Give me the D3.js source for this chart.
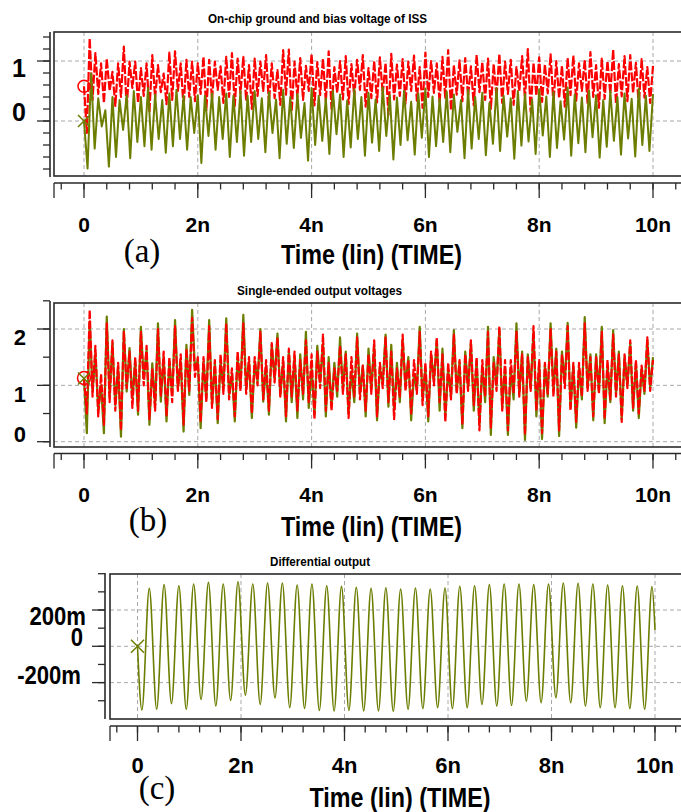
<!DOCTYPE html>
<html>
<head>
<meta charset="utf-8">
<script src="https://cdn.jsdelivr.net/npm/d3@7"></script>
<style>
  body { margin: 0; background: #fff; }
  svg { display: block; }
  text { font-family: "Liberation Sans", Arial, Helvetica, sans-serif; font-weight: bold; fill: #000; }
</style>
</head>
<body>
<div id="chart"></div>
<script>
// ---- data: time in ns, values in V ----
const timeTicks = [0, 2, 4, 6, 8, 10];
const timeLabels = ["0", "2n", "4n", "6n", "8n", "10n"];

const biasStart = 0.58;
const biasStep = 0.05;
const biasLows = [-0.20, 0.35, 0.45, 0.30, 0.50, 0.25, 0.40, 0.20, 0.55, 0.30,
  0.42, 0.15, 0.38, 0.48, 0.28, 0.35, 0.50, 0.22, 0.40, 0.33,
  0.45, 0.18, 0.36, 0.52, 0.30, 0.40, 0.25, 0.46, 0.34, 0.20,
  0.42, 0.50, 0.30, 0.38, 0.27, 0.44, 0.16, 0.40, 0.35, 0.50,
  0.26, 0.43, 0.32, 0.20, 0.47, 0.36, 0.28, 0.40, 0.52, 0.24,
  0.38, 0.31, 0.45, 0.10, 0.36, 0.42, 0.29, 0.50, 0.34, 0.22,
  0.40, 0.47, 0.30, 0.37, 0.18, 0.44, 0.33, 0.41, 0.26, 0.48,
  0.35, 0.20, 0.39, 0.30, 0.45, 0.27, 0.50, 0.36, 0.15, 0.42,
  0.32, 0.46, 0.28, 0.38, 0.24, 0.43, 0.34, 0.50, 0.30, 0.40,
  0.22, 0.37, 0.45, 0.29, 0.41, 0.33, 0.47, 0.25, 0.39, 0.30];
const biasHighs = [1.38, 1.13, 0.96, 1.04, 0.82, 0.96, 1.24, 0.99, 0.99, 0.88,
  0.96, 1.10, 0.93, 0.79, 1.14, 1.16, 0.96, 1.02, 0.99, 0.96,
  1.07, 1.02, 0.99, 0.91, 1.07, 1.13, 1.04, 1.07, 0.93, 1.04,
  0.99, 1.10, 0.96, 0.85, 1.18, 1.19, 0.99, 1.05, 0.92, 1.12,
  0.98, 1.04, 1.16, 0.90, 1.00, 1.08, 0.95, 1.02, 1.10, 0.88,
  1.00, 1.06, 0.97, 1.12, 0.94, 1.03, 0.99, 1.09, 0.90, 1.14,
  1.00, 0.96, 1.07, 1.18, 0.93, 1.01, 1.05, 0.91, 1.10, 0.98,
  1.04, 0.95, 1.12, 0.99, 1.02, 0.90, 1.08, 1.20, 0.97, 1.06,
  0.94, 1.11, 1.00, 0.92, 1.05, 1.09, 0.96, 1.02, 1.15, 0.93,
  1.04, 1.00, 1.19, 0.95, 1.08, 1.10, 0.97, 1.03, 0.90, 0.92];
const gndStart = 0;
const gndStep = 0.0625;
const gndLows = [-0.79, -0.46, -0.09, -0.76, -0.60, -0.15, -0.62, -0.35, -0.42, -0.48,
  -0.30, -0.53, -0.42, -0.30, -0.48, -0.20, -0.70, -0.25, -0.48, -0.30,
  -0.60, -0.35, -0.58, -0.35, -0.30, -0.52, -0.20, -0.62, -0.38, -0.45,
  -0.28, -0.66, -0.40, -0.33, -0.55, -0.22, -0.60, -0.44, -0.30, -0.58,
  -0.36, -0.50, -0.25, -0.64, -0.40, -0.32, -0.56, -0.28, -0.60, -0.42,
  -0.35, -0.52, -0.18, -0.62, -0.46, -0.30, -0.57, -0.38, -0.50, -0.26,
  -0.63, -0.41, -0.34, -0.55, -0.24, -0.60, -0.45, -0.31, -0.58, -0.37,
  -0.52, -0.27, -0.61, -0.43, -0.33, -0.56, -0.29, -0.59, -0.40, -0.50];
const gndHighs = [0.79, 0.38, 0.18, 0.40, 0.35, 0.43, 0.50, 0.40, 0.55, 0.44,
  0.35, 0.46, 0.52, 0.42, 0.40, 0.43, 0.42, 0.46, 0.40, 0.46,
  0.42, 0.50, 0.42, 0.50, 0.38, 0.48, 0.36, 0.52, 0.40, 0.45,
  0.30, 0.55, 0.42, 0.38, 0.50, 0.44, 0.34, 0.53, 0.40, 0.47,
  0.36, 0.56, 0.43, 0.39, 0.50, 0.32, 0.46, 0.54, 0.41, 0.37,
  0.49, 0.44, 0.35, 0.52, 0.40, 0.47, 0.30, 0.55, 0.42, 0.38,
  0.50, 0.45, 0.36, 0.53, 0.41, 0.48, 0.33, 0.56, 0.44, 0.39,
  0.51, 0.43, 0.35, 0.50, 0.40, 0.46, 0.37, 0.54, 0.42, 0.45];

// (b) single-ended outputs, one value every 0.05 ns
const seStep = 0.05;
const outN = [1.12,
  0.15, 2.13, 0.89, 1.57, 0.57, 1.00, 0.15, 2.22, 0.83, 1.75, 0.65, 1.33,
  0.09, 2.00, 0.89, 1.66, 0.77, 1.42, 0.48, 2.04, 1.12, 1.63, 0.30, 1.39,
  0.65, 2.10, 0.71, 1.51, 0.36, 1.42, 0.83, 2.16, 0.95, 1.42, 0.18, 1.72,
  0.83, 2.34, 1.30, 1.45, 0.24, 1.42, 0.77, 2.16, 0.65, 1.39, 0.33, 1.42,
  0.95, 2.19, 0.83, 1.20, 0.36, 1.50, 0.95, 2.25, 0.95, 1.42, 0.42, 1.42,
  1.07, 2.00, 0.71, 1.36, 0.48, 1.72, 1.12, 1.92, 0.83, 1.42, 0.36, 1.60,
  0.70, 1.50,
  0.42, 1.55, 0.75, 1.95, 0.60, 1.30, 0.48, 1.70, 1.05, 1.75, 0.45, 1.50,
  0.62, 1.40, 0.80, 1.85, 0.95, 1.60, 0.50, 1.25, 0.70, 1.92, 0.85, 1.35,
  0.45, 1.65, 0.95, 1.70,
  0.38, 1.30, 1.05, 1.90, 0.62, 1.72, 0.55, 1.40, 0.70, 1.80, 1.00, 1.50,
  0.38, 1.20, 0.92, 2.04, 0.75, 1.30, 0.36, 1.55, 1.10, 1.80, 0.55, 1.65,
  0.45, 1.28, 0.80, 1.98, 0.90, 1.40, 0.24, 1.60, 0.95, 1.75, 0.55, 1.45,
  0.30, 1.35, 0.70, 2.04,
  0.12, 1.50, 1.00, 2.00, 0.60, 1.30, 0.12, 1.30, 0.75, 2.10, 0.85, 1.60,
  0.03, 1.55, 0.95, 1.95, 0.45, 1.40, 0.05, 1.35, 0.80, 2.10, 0.90, 1.65,
  0.10, 1.60, 1.05, 2.11, 0.60, 1.35, 0.25, 1.30, 0.75, 2.21, 0.95, 1.55,
  0.38, 1.55, 0.90, 2.04,
  0.33, 1.35, 0.70, 1.98, 0.85, 1.60, 0.40, 1.50, 1.00, 1.75, 0.55, 1.40,
  0.42, 1.30, 0.85, 1.80, 0.95, 1.50];
const outP = [1.13,
  0.50, 2.34, 0.80, 1.70, 0.45, 1.20, 0.30, 2.10, 0.70, 1.80, 0.55, 1.40,
  0.20, 1.95, 0.95, 1.60, 0.60, 1.50, 0.55, 1.95, 1.00, 1.70, 0.40, 1.30,
  0.55, 2.00, 0.80, 1.60, 0.45, 1.50, 0.70, 2.05, 0.90, 1.55, 0.30, 1.65,
  0.90, 2.20, 1.15, 1.50, 0.35, 1.50, 0.70, 2.05, 0.60, 1.45, 0.40, 1.55,
  0.85, 2.10, 0.75, 1.30, 0.45, 1.60, 0.90, 2.10, 0.85, 1.50, 0.50, 1.50,
  1.00, 1.95, 0.75, 1.45, 0.55, 1.75, 1.05, 1.85, 0.80, 1.50, 0.45, 1.65,
  0.80, 1.60,
  0.55, 1.45, 0.85, 1.80, 0.70, 1.55, 0.40, 1.60, 0.95, 1.90, 0.55, 1.40,
  0.55, 1.30, 0.90, 1.70, 0.85, 1.55, 0.42, 1.50, 0.80, 1.85, 0.75, 1.35,
  0.55, 1.55, 0.85, 1.80,
  0.45, 1.40, 0.95, 1.85, 0.70, 1.60, 0.40, 1.30, 0.80, 1.90, 0.90, 1.45,
  0.50, 1.45, 0.85, 1.95, 0.65, 1.40, 0.45, 1.60, 1.00, 1.85, 0.70, 1.55,
  0.35, 1.40, 0.75, 1.90, 0.85, 1.45, 0.30, 1.55, 0.90, 1.80, 0.65, 1.50,
  0.20, 1.45, 0.80, 1.95,
  0.25, 1.40, 0.90, 2.05, 0.55, 1.45, 0.20, 1.45, 0.85, 1.95, 0.80, 1.55,
  0.12, 1.50, 0.90, 2.05, 0.55, 1.45, 0.15, 1.40, 0.85, 2.00, 0.80, 1.60,
  0.20, 1.55, 0.95, 2.05, 0.55, 1.40, 0.35, 1.40, 0.80, 2.10, 0.90, 1.50,
  0.45, 1.50, 0.85, 1.95,
  0.40, 1.45, 0.75, 1.90, 0.80, 1.55, 0.35, 1.55, 0.95, 1.80, 0.60, 1.45,
  0.50, 1.35, 0.90, 1.85, 0.90, 1.45];

// (c) differential output (mV), extrema every half period starting with a trough
const diffFirst = 0.085;
const diffHalf = 1 / 7;
const diffTroughs = [-351, -347, -316, -347, -293, -329, -298, -269, -320, -284,
  -338, -342, -353, -356, -353, -356, -356, -358, -347, -343,
  -338, -343, -338, -320, -329, -325, -302, -311, -283, -311,
  -329, -338, -338, -343, -347];
const diffPeaks = [319, 340, 334, 343, 352, 343, 356, 343, 349, 349,
  338, 343, 334, 330, 325, 319, 323, 316, 321, 316,
  321, 331, 334, 340, 343, 343, 340, 343, 349, 347,
  343, 338, 334, 332, 329];
const diffEnd = 90;

// ---- build point lists ----
function alternate(start, step, lows, highs) {
  const pts = [[0, start]];
  const n = Math.min(lows.length, highs.length);
  for (let k = 0; k < n; k++) {
    pts.push([(2 * k + 1) * step, lows[k]]);
    pts.push([(2 * k + 2) * step, highs[k]]);
  }
  return pts;
}
const biasPts = alternate(biasStart, biasStep, biasLows, biasHighs);
const gndPts = alternate(gndStart, gndStep, gndLows, gndHighs);
const outNPts = outN.map((v, i) => [i * seStep, v]);
const outPPts = outP.map((v, i) => [i * seStep, v]);
const diffPts = [[0, 0]];
for (let j = 0; j < diffTroughs.length + diffPeaks.length; j++) {
  const v = j % 2 === 0 ? diffTroughs[j / 2] : diffPeaks[(j - 1) / 2];
  if (v !== undefined) diffPts.push([diffFirst + j * diffHalf, v / 1000]);
}
diffPts.push([10, diffEnd / 1000]);

const RED = "#ff0000";
const OLIVE = "#6c7d00";
const INK = "#2a2a2a";

const svg = d3.select("#chart").append("svg")
  .attr("width", 681)
  .attr("height", 812);
const defs = svg.append("defs");

function addText(g, x, y, text, size, opts = {}) {
  const t = g.append("text")
    .attr("text-anchor", opts.anchor || "middle")
    .attr("font-size", size)
    .attr("transform", `translate(${x},${y})` + (opts.sx ? ` scale(${opts.sx},1)` : ""))
    .text(text);
  if (opts.len) t.attr("textLength", opts.len).attr("lengthAdjust", "spacingAndGlyphs");
  if (opts.serif) t.style("font-family", '"Liberation Serif", "Times New Roman", serif').style("font-weight", "normal");
  return t;
}

function drawPanel(p) {
  const g = svg.append("g");
  const bx0 = p.boxLeft, bx1 = 720;
  const [by0, by1] = p.boxY;

  defs.append("clipPath").attr("id", "clip-" + p.id)
    .append("rect")
    .attr("x", bx0).attr("y", by0)
    .attr("width", bx1 - bx0).attr("height", by1 - by0);

  // dashed grid
  g.selectAll(".vgrid").data(timeTicks).enter().append("line")
    .attr("x1", d => p.x(d)).attr("x2", d => p.x(d))
    .attr("y1", by0).attr("y2", by1)
    .attr("stroke", "#a8a8a8").attr("stroke-dasharray", "4,3");
  g.selectAll(".hgrid").data(p.yMajor).enter().append("line")
    .attr("x1", bx0).attr("x2", bx1)
    .attr("y1", d => p.y(d)).attr("y2", d => p.y(d))
    .attr("stroke", "#a8a8a8").attr("stroke-dasharray", "4,3");

  // traces
  const plot = g.append("g").attr("clip-path", `url(#clip-${p.id})`);
  const line = d3.line()
    .x(d => p.x(d[0]))
    .y(d => p.y(d[1]))
    .curve(p.curve);
  p.traces.forEach(tr => {
    plot.append("path")
      .datum(tr.data)
      .attr("d", line)
      .attr("fill", "none")
      .attr("stroke", tr.color)
      .attr("stroke-width", tr.width)
      .attr("stroke-linejoin", "round")
      .attr("stroke-dasharray", tr.dash || null);
  });

  // start markers
  p.markers.forEach(m => {
    const cx = p.x(m.t), cy = p.y(m.v), s = m.size;
    if (m.type === "circle") {
      g.append("circle").attr("cx", cx).attr("cy", cy).attr("r", s)
        .attr("fill", "none").attr("stroke", m.color).attr("stroke-width", 1.5);
    } else {
      g.append("path")
        .attr("d", `M${cx - s},${cy - s}L${cx + s},${cy + s}M${cx - s},${cy + s}L${cx + s},${cy - s}`)
        .attr("stroke", m.color).attr("stroke-width", 1.5);
    }
  });

  // frame
  g.append("rect")
    .attr("x", bx0).attr("y", by0)
    .attr("width", bx1 - bx0).attr("height", by1 - by0)
    .attr("fill", "none").attr("stroke", INK).attr("stroke-width", 1.6);

  // y axis
  g.append("line")
    .attr("x1", p.yAxisX).attr("x2", p.yAxisX)
    .attr("y1", p.yAxisSpan[0]).attr("y2", p.yAxisSpan[1])
    .attr("stroke", INK).attr("stroke-width", 1.6);
  g.selectAll(".ytick").data(p.yMinor).enter().append("line")
    .attr("x1", p.yAxisX - 7).attr("x2", p.yAxisX)
    .attr("y1", d => p.y(d)).attr("y2", d => p.y(d))
    .attr("stroke", INK).attr("stroke-width", 1.3);
  g.selectAll(".ymajor").data(p.yMajor).enter().append("line")
    .attr("x1", p.yAxisX - 13).attr("x2", p.yAxisX)
    .attr("y1", d => p.y(d)).attr("y2", d => p.y(d))
    .attr("stroke", INK).attr("stroke-width", 1.3);
  p.yLabels.forEach(l => {
    addText(g, l.right, p.y(l.v) + l.dy, l.text, p.yLabelSize, { anchor: "end", sx: p.yLabelSx });
  });

  // x axis (separate line under the frame)
  const ax = p.xAxisY;
  g.append("line")
    .attr("x1", bx0).attr("x2", bx1).attr("y1", ax).attr("y2", ax)
    .attr("stroke", INK).attr("stroke-width", 1.6);
  g.append("line")
    .attr("x1", bx0).attr("x2", bx0).attr("y1", ax).attr("y2", ax + 15)
    .attr("stroke", INK).attr("stroke-width", 1.3);
  g.selectAll(".xtick").data(d3.range(-0.4, 11.0, 0.4)).enter().append("line")
    .attr("x1", d => p.x(d)).attr("x2", d => p.x(d))
    .attr("y1", ax).attr("y2", ax + 6.5)
    .attr("stroke", INK).attr("stroke-width", 1.3);
  g.selectAll(".xmajor").data(timeTicks).enter().append("line")
    .attr("x1", d => p.x(d)).attr("x2", d => p.x(d))
    .attr("y1", ax).attr("y2", ax + 15)
    .attr("stroke", INK).attr("stroke-width", 1.3);
  timeTicks.forEach((d, i) => addText(g, p.x(d), p.xLabelY, timeLabels[i], p.xLabelSize));

  // titles
  addText(g, p.title.x, p.title.y, p.title.text, 13, { len: p.title.len });
  addText(g, p.axisTitle.x, p.axisTitle.y, "Time (lin) (TIME)", 27, { len: 181 });
  addText(g, p.tag.x, p.tag.y, p.tag.text, 33, { serif: true });
}

const xAB = d3.scaleLinear().domain([0, 10]).range([84, 653]);

drawPanel({
  id: "a",
  x: xAB,
  y: d3.scaleLinear().domain([0, 1]).range([121, 61]),
  curve: d3.curveLinear,
  boxLeft: 54, boxY: [32, 176],
  yAxisX: 50, yAxisSpan: [32, 177], xAxisY: 183,
  yMinor: d3.range(-0.8, 1.41, 0.2), yMajor: [0, 1],
  yLabels: [{ v: 1, text: "1", dy: 16, right: 26 }, { v: 0, text: "0", dy: 0, right: 26 }],
  yLabelSize: 25,
  xLabelY: 232, xLabelSize: 21,
  title: { text: "On-chip ground and bias voltage of ISS", x: 317.5, y: 22.5, len: 219 },
  axisTitle: { x: 371.5, y: 264 },
  tag: { text: "(a)", x: 142, y: 262 },
  traces: [
    { data: biasPts, color: RED, width: 2.2, dash: "9,2" },
    { data: gndPts, color: OLIVE, width: 2 }
  ],
  markers: [
    { type: "circle", t: 0, v: biasStart, size: 6, color: RED },
    { type: "x", t: 0, v: gndStart, size: 6, color: OLIVE }
  ]
});

drawPanel({
  id: "b",
  x: xAB,
  y: d3.scaleLinear().domain([0, 2]).range([441.7, 329]),
  curve: d3.curveLinear,
  boxLeft: 54, boxY: [303, 447],
  yAxisX: 50, yAxisSpan: [301, 447], xAxisY: 453.5,
  yMinor: d3.range(0, 2.51, 0.5), yMajor: [0, 1, 2],
  yLabels: [{ v: 2, text: "2", dy: 16, right: 26 }, { v: 1, text: "1", dy: 16.5, right: 26 },
    { v: 0, text: "0", dy: 0.3, right: 26 }],
  yLabelSize: 22,
  xLabelY: 502, xLabelSize: 21,
  title: { text: "Single-ended output voltages", x: 319.5, y: 295, len: 165 },
  axisTitle: { x: 371.5, y: 536 },
  tag: { text: "(b)", x: 148, y: 531 },
  traces: [
    { data: outNPts, color: OLIVE, width: 2.2 },
    { data: outPPts, color: RED, width: 2.2, dash: "8,2" }
  ],
  markers: [
    { type: "circle", t: 0, v: outP[0], size: 6.5, color: RED },
    { type: "x", t: 0, v: outN[0], size: 6, color: OLIVE }
  ]
});

drawPanel({
  id: "c",
  x: d3.scaleLinear().domain([0, 10]).range([137.5, 655]),
  y: d3.scaleLinear().domain([0, 0.2]).range([646.3, 610]),
  curve: d3.curveMonotoneX,
  boxLeft: 110, boxY: [574, 719],
  yAxisX: 105, yAxisSpan: [573, 719], xAxisY: 726,
  yMinor: d3.range(-0.3, 0.41, 0.1), yMajor: [-0.2, 0, 0.2],
  yLabels: [{ v: 0.2, text: "200m", dy: 15, right: 86 }, { v: 0, text: "0", dy: 0, right: 83 },
    { v: -0.2, text: "-200m", dy: 1, right: 81 }],
  yLabelSize: 26, yLabelSx: 0.85,
  xLabelY: 773, xLabelSize: 22,
  title: { text: "Differential output", x: 320, y: 566, len: 100 },
  axisTitle: { x: 400, y: 807 },
  tag: { text: "(c)", x: 157, y: 799 },
  traces: [
    { data: diffPts, color: OLIVE, width: 1.6 }
  ],
  markers: [
    { type: "x", t: 0, v: 0, size: 6.5, color: OLIVE }
  ]
});
</script>
</body>
</html>
